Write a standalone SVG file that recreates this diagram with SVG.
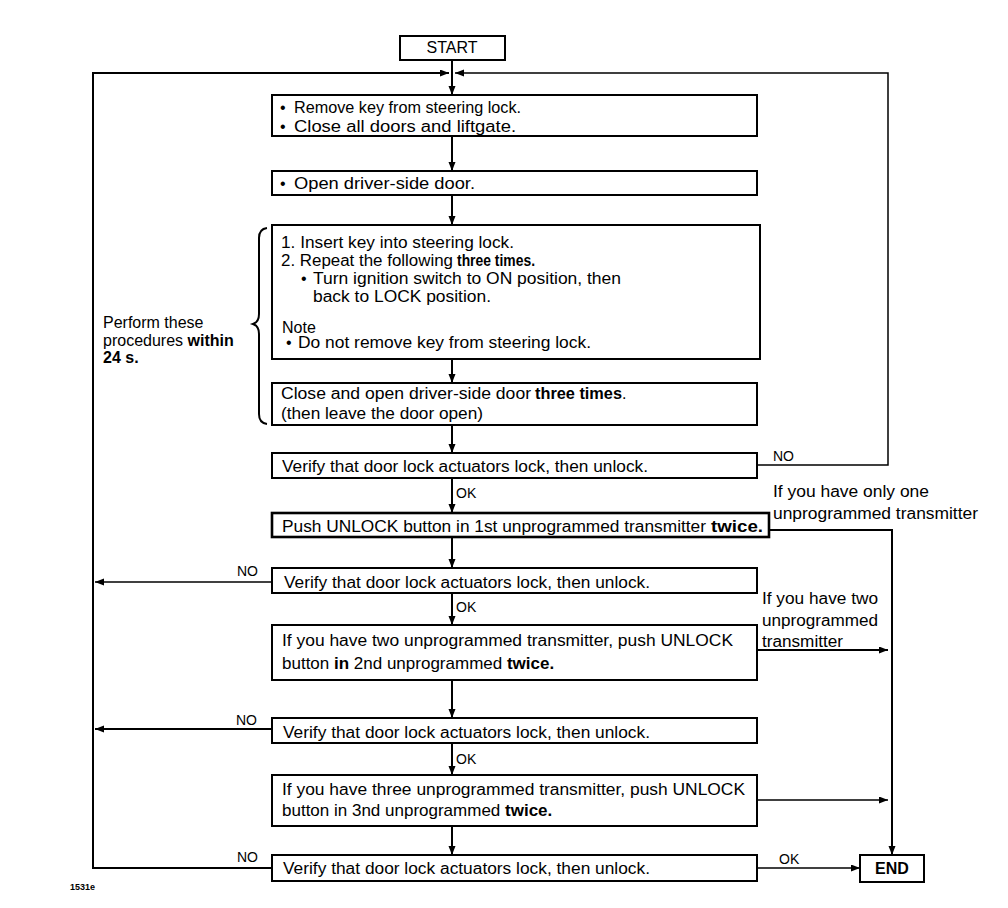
<svg xmlns="http://www.w3.org/2000/svg" width="1008" height="908" viewBox="0 0 1008 908">
<style>
.box{fill:#fff;stroke:#000;stroke-width:2}
.thick{stroke-width:2.6}
.t{font-family:"Liberation Sans",Arial,sans-serif;font-size:16px;fill:#000}
.u{font-family:"Liberation Sans",Arial,sans-serif;font-size:17px;fill:#000}
.s{font-family:"Liberation Sans",Arial,sans-serif;font-size:14px;fill:#000}
.b{font-weight:bold}
.c{fill:none;stroke:#000;stroke-width:2}
.c1{fill:none;stroke:#000;stroke-width:1.5}
</style>
<defs>
<marker id="a" markerUnits="userSpaceOnUse" markerWidth="10" markerHeight="8" refX="9" refY="3.5" orient="auto">
<path d="M0,0 L9,3.5 L0,7 z" fill="#000"/>
</marker>
</defs>
<rect width="1008" height="908" fill="#fff"/>

<g id="connectors">
<path class="c" d="M452,60 V95" marker-end="url(#a)"/>
<path class="c" d="M452,136 V171" marker-end="url(#a)"/>
<path class="c" d="M452,195 V225" marker-end="url(#a)"/>
<path class="c" d="M452,359 V383" marker-end="url(#a)"/>
<path class="c" d="M452,425 V453" marker-end="url(#a)"/>
<path class="c" d="M452,478 V513" marker-end="url(#a)"/>
<path class="c" d="M452,537 V568" marker-end="url(#a)"/>
<path class="c" d="M452,593 V625" marker-end="url(#a)"/>
<path class="c" d="M452,680 V718" marker-end="url(#a)"/>
<path class="c" d="M452,743 V775" marker-end="url(#a)"/>
<path class="c" d="M452,826 V855" marker-end="url(#a)"/>
<path class="c" d="M272,868 H93 V73 H449" marker-end="url(#a)"/>
<path class="c1" d="M757,465 H888 V73 H455" marker-end="url(#a)"/>
<path class="c1" d="M272,582 H95" marker-end="url(#a)"/>
<path class="c" d="M272,729 H95" marker-end="url(#a)"/>
<path class="c" d="M769,530 H892 V855" marker-end="url(#a)"/>
<path class="c" d="M757,650 H888" marker-end="url(#a)"/>
<path class="c1" d="M757,800 H888" marker-end="url(#a)"/>
<path class="c1" d="M757,868 H860" marker-end="url(#a)"/>
<path class="c" d="M267,228 Q259,229 259,238 L259,314 Q259,322 253,324 Q259,326 259,334 L259,414 Q259,423 267,424"/>
</g>

<g id="start">
<rect class="box" x="400" y="36" width="105" height="24"/>
<text class="t" x="452" y="53" text-anchor="middle">START</text>
</g>

<g id="step1">
<rect class="box" x="272" y="95" width="485" height="41"/>
<text class="t" x="280" y="113">•</text>
<text class="t" x="294" y="113" textLength="227" lengthAdjust="spacingAndGlyphs">Remove key from steering lock.</text>
<text class="t" x="280" y="132">•</text>
<text class="t" x="294" y="132" textLength="222" lengthAdjust="spacingAndGlyphs">Close all doors and liftgate.</text>
</g>

<g id="step2">
<rect class="box" x="272" y="171" width="485" height="24"/>
<text class="t" x="280" y="189">•</text>
<text class="t" x="294" y="189" textLength="181" lengthAdjust="spacingAndGlyphs">Open driver-side door.</text>
</g>

<g id="step3">
<rect class="box" x="272" y="225" width="488" height="134"/>
<text class="t" x="281" y="248" textLength="233" lengthAdjust="spacingAndGlyphs">1. Insert key into steering lock.</text>
<text class="t" x="281" y="266" textLength="172" lengthAdjust="spacingAndGlyphs">2. Repeat the following</text>
<text class="t b" x="457" y="266" textLength="78" lengthAdjust="spacingAndGlyphs">three times.</text>
<text class="t" x="301" y="284">•</text>
<text class="t" x="313" y="284" textLength="308" lengthAdjust="spacingAndGlyphs">Turn ignition switch to ON position, then</text>
<text class="t" x="313" y="302" textLength="178" lengthAdjust="spacingAndGlyphs">back to LOCK position.</text>
<text class="t" x="282" y="333">Note</text>
<text class="t" x="286" y="348">•</text>
<text class="t" x="298" y="348" textLength="293" lengthAdjust="spacingAndGlyphs">Do not remove key from steering lock.</text>
</g>

<g id="note24">
<text class="t" x="103" y="328">Perform these</text>
<text class="t" x="103" y="346">procedures <tspan class="b">within</tspan></text>
<text class="t b" x="103" y="363">24 s.</text>
</g>

<g id="step4">
<rect class="box" x="272" y="383" width="485" height="42"/>
<text class="t" x="281" y="399" textLength="250" lengthAdjust="spacingAndGlyphs">Close and open driver-side door</text>
<text class="t b" x="535" y="399" textLength="87" lengthAdjust="spacingAndGlyphs">three times</text>
<text class="t" x="622" y="399">.</text>
<text class="t" x="281" y="419" textLength="202" lengthAdjust="spacingAndGlyphs">(then leave the door open)</text>
</g>

<g id="verify1">
<rect class="box" x="272" y="453" width="485" height="25"/>
<text class="t" x="282" y="472" textLength="366" lengthAdjust="spacingAndGlyphs">Verify that door lock actuators lock, then unlock.</text>
<text class="s" x="773" y="461">NO</text>
<text class="s" x="456" y="498">OK</text>
</g>

<g id="push1">
<rect class="box thick" x="272" y="513" width="497" height="24"/>
<text class="t" x="282" y="532" textLength="424" lengthAdjust="spacingAndGlyphs">Push UNLOCK button in 1st unprogrammed transmitter</text>
<text class="t b" x="711" y="532" textLength="52" lengthAdjust="spacingAndGlyphs">twice.</text>
<text class="t" x="773" y="497" textLength="156" lengthAdjust="spacingAndGlyphs">If you have only one</text>
<text class="t" x="773" y="519" textLength="205" lengthAdjust="spacingAndGlyphs">unprogrammed transmitter</text>
</g>

<g id="verify2">
<rect class="box" x="272" y="568" width="485" height="25"/>
<text class="t" x="284" y="588" textLength="366" lengthAdjust="spacingAndGlyphs">Verify that door lock actuators lock, then unlock.</text>
<text class="s" x="237" y="576">NO</text>
<text class="s" x="456" y="612">OK</text>
</g>

<g id="push2">
<rect class="box" x="272" y="625" width="485" height="55"/>
<text class="t" x="282" y="646" textLength="451" lengthAdjust="spacingAndGlyphs">If you have two unprogrammed transmitter, push UNLOCK</text>
<text class="u" x="282" y="669">button <tspan class="b">in</tspan> 2nd unprogrammed <tspan class="b">twice.</tspan></text>
<text class="t" x="762" y="604" textLength="116" lengthAdjust="spacingAndGlyphs">If you have two</text>
<text class="t" x="762" y="626" textLength="116" lengthAdjust="spacingAndGlyphs">unprogrammed</text>
<text class="t" x="762" y="647" textLength="81" lengthAdjust="spacingAndGlyphs">transmitter</text>
</g>

<g id="verify3">
<rect class="box" x="272" y="718" width="485" height="25"/>
<text class="t" x="283" y="738" textLength="367" lengthAdjust="spacingAndGlyphs">Verify that door lock actuators lock, then unlock.</text>
<text class="s" x="236" y="725">NO</text>
<text class="s" x="456" y="764">OK</text>
</g>

<g id="push3">
<rect class="box" x="272" y="775" width="485" height="51"/>
<text class="t" x="282" y="795" textLength="463" lengthAdjust="spacingAndGlyphs">If you have three unprogrammed transmitter, push UNLOCK</text>
<text class="u" x="282" y="816">button in 3nd unprogrammed <tspan class="b">twice.</tspan></text>
</g>

<g id="verify4">
<rect class="box" x="272" y="855" width="485" height="26"/>
<text class="t" x="283" y="874" textLength="367" lengthAdjust="spacingAndGlyphs">Verify that door lock actuators lock, then unlock.</text>
<text class="s" x="237" y="862">NO</text>
<text class="s" x="779" y="864">OK</text>
</g>

<g id="end">
<rect class="box" x="860" y="855" width="64" height="27"/>
<text class="t b" x="892" y="874" text-anchor="middle">END</text>
</g>

<text x="70" y="890" style="font-family:'Liberation Sans',Arial,sans-serif;font-size:9px;font-weight:bold">1531e</text>
</svg>
